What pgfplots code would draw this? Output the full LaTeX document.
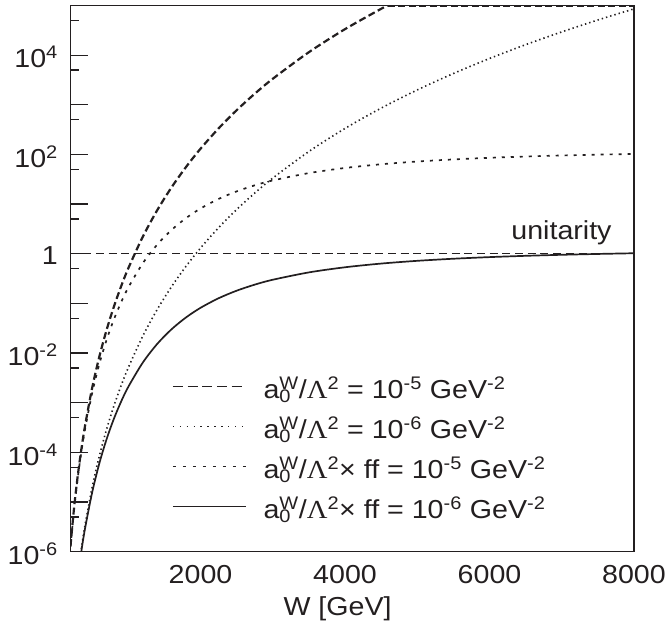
\documentclass[border=0pt]{standalone}
\usepackage{fontspec}
\setmainfont{Liberation Sans}[FakeStretch=1.1]
\newfontfamily\lamfont{Liberation Serif}[FakeStretch=1.1]
\usepackage{pgfplots}
\pgfplotsset{compat=1.18}
\definecolor{ink}{HTML}{231F20}
\newcommand{\aw}{a\makebox[0pt][l]{\textsubscript{0}}\textsuperscript{W}}
\newcommand{\lam}{{\lamfont Λ}}
\begin{document}
\fontsize{26}{31}\selectfont
\begin{tikzpicture}
\path[use as bounding box] (-70.5pt,-81.3pt) rectangle (596.5pt,551.7pt);
\begin{axis}[
  scale only axis, width=563.5pt, height=546.2pt,
  xmin=200, xmax=8000, ymode=log, ymin=1e-6, ymax=1e5,
  axis line style={line width=1.4pt, ink},
  xtick={2000,4000,6000,8000},
  xticklabels={2000,4000,6000,8000},
  xtick style={draw=none},
  xticklabel style={inner sep=0pt, anchor=north, yshift=-13pt, text=ink},
  ytick={1e-6,1e-5,1e-4,1e-3,1e-2,1e-1,1,10,100,1e3,1e4,1e5},
  yticklabels={10\textsuperscript{-6},,10\textsuperscript{-4},,10\textsuperscript{-2},,1,,10\textsuperscript{2},,10\textsuperscript{4},},
  minor ytick={5e-6,5e-5,5e-4,5e-3,5e-2,0.5,5,50,500,5e3,5e4},
  yticklabel style={anchor=east, inner sep=0pt, xshift=-12.5pt, yshift=-2pt, text=ink},
  ytick pos=left, xtick pos=bottom, tick align=inside,
  major tick length=17pt, minor tick length=9pt,
  ytick style={line width=1.3pt, ink},
  xlabel={W [GeV]},
  xlabel style={at={(axis description cs:0.474,0)}, anchor=base, yshift=-63.3pt, inner sep=0pt, text=ink},
  legend style={draw=none, fill=none, at={(0.1801,0.318)}, anchor=north west,
    inner sep=0pt, row sep=12pt, column sep=17pt, text=ink,
    nodes={inner sep=0pt, text height=20pt, text depth=8pt}},
  legend cell align=left,
  legend image code/.code={\draw[#1] (0pt,6pt) -- (73pt,6pt);},
]
% unitarity line
\addplot[forget plot, ink, line width=1.4pt, dash pattern=on 8pt off 4.7pt] coordinates {(200,1) (8000,1)};
% a/L^2 = 1e-5
\addplot[forget plot, smooth, ink, line width=2.2pt, dash pattern=on 7pt off 3.5pt] coordinates {
(200,1.306e-6)(250,7.785e-6)(300,3.347e-5)(350,1.149e-4)(400,3.344e-4)(500,1.993e-3)(600,8.569e-3)(700,2.941e-2)(800,8.560e-2)(900,0.2196)(1000,0.5102)(1200,2.194)(1400,7.530)(1600,21.91)(1800,56.22)(2000,130.6)(2250,335.1)(2500,778.5)(2750,1669)(3000,3347)(3500,11489)(4000,33437)(4500,85792)(4590,100518)};
\addplot[forget plot, ink, line width=2.2pt, dash pattern=on 7pt off 3.5pt] coordinates {(4590,1e5) (8000,1e5)};
% a/L^2 = 1e-6
\addplot[forget plot, smooth, ink, line width=1.6pt, dash pattern=on 1.4pt off 3pt] coordinates {
(200,1.306e-8)(250,7.785e-8)(300,3.347e-7)(350,1.149e-6)(400,3.344e-6)(500,1.993e-5)(600,8.569e-5)(700,2.941e-4)(800,8.560e-4)(900,2.196e-3)(1000,5.102e-3)(1200,0.02194)(1400,0.07530)(1600,0.2191)(1800,0.5622)(2000,1.306)(2250,3.351)(2500,7.785)(2750,16.69)(3000,33.47)(3500,114.9)(4000,334.4)(4500,857.9)(5000,1993)(5500,4272)(6000,8569)(6500,16257)(7000,29412)(7500,51078)(8000,85598)};
% a/L^2 x ff = 1e-5
\addplot[forget plot, smooth, ink, line width=1.7pt, dash pattern=on 3pt off 6pt] coordinates {
(200,1.255e-6)(250,7.316e-6)(300,3.062e-5)(350,1.018e-4)(400,2.858e-4)(500,1.564e-3)(600,6.070e-3)(700,0.01853)(800,0.04728)(900,0.1050)(1000,0.2090)(1200,0.6413)(1400,1.528)(1600,3.029)(1800,5.238)(2000,8.163)(2250,12.72)(2500,18.06)(2750,23.90)(3000,30.00)(3500,42.18)(4000,53.50)(4500,63.51)(5000,72.14)(5500,79.48)(6000,85.69)(6500,90.96)(7000,95.42)(7500,99.23)(8000,102.49)};
% a/L^2 x ff = 1e-6
\addplot[forget plot, smooth, ink, line width=1.7pt] coordinates {
(200,1.255e-8)(250,7.316e-8)(300,3.062e-7)(350,1.018e-6)(400,2.858e-6)(500,1.564e-5)(600,6.070e-5)(700,1.853e-4)(800,4.728e-4)(900,1.050e-3)(1000,2.090e-3)(1200,6.413e-3)(1400,0.01528)(1600,0.03029)(1800,0.05238)(2000,0.08163)(2250,0.1272)(2500,0.1806)(2750,0.2390)(3000,0.3000)(3500,0.4218)(4000,0.5350)(4500,0.6351)(5000,0.7214)(5500,0.7948)(6000,0.8569)(6500,0.9096)(7000,0.9542)(7500,0.9923)(8000,1.0249)};
\node[anchor=base east, inner sep=0pt, text=ink] at (axis cs:7692,1.9) {unitarity};
\addlegendimage{ink, line width=1.4pt, dash pattern=on 10pt off 4.7pt}
\addlegendentry{\aw/\lam\textsuperscript{2} = 10\textsuperscript{-5} GeV\textsuperscript{-2}}
\addlegendimage{ink, line width=1.4pt, dash pattern=on 1.4pt off 5.5pt}
\addlegendentry{\aw/\lam\textsuperscript{2} = 10\textsuperscript{-6} GeV\textsuperscript{-2}}
\addlegendimage{ink, line width=1.4pt, dash pattern=on 3.3pt off 6.7pt}
\addlegendentry{\aw/\lam\textsuperscript{2}× ff = 10\textsuperscript{-5} GeV\textsuperscript{-2}}
\addlegendimage{ink, line width=1.4pt}
\addlegendentry{\aw/\lam\textsuperscript{2}× ff = 10\textsuperscript{-6} GeV\textsuperscript{-2}}
\end{axis}
\end{tikzpicture}
\end{document}
